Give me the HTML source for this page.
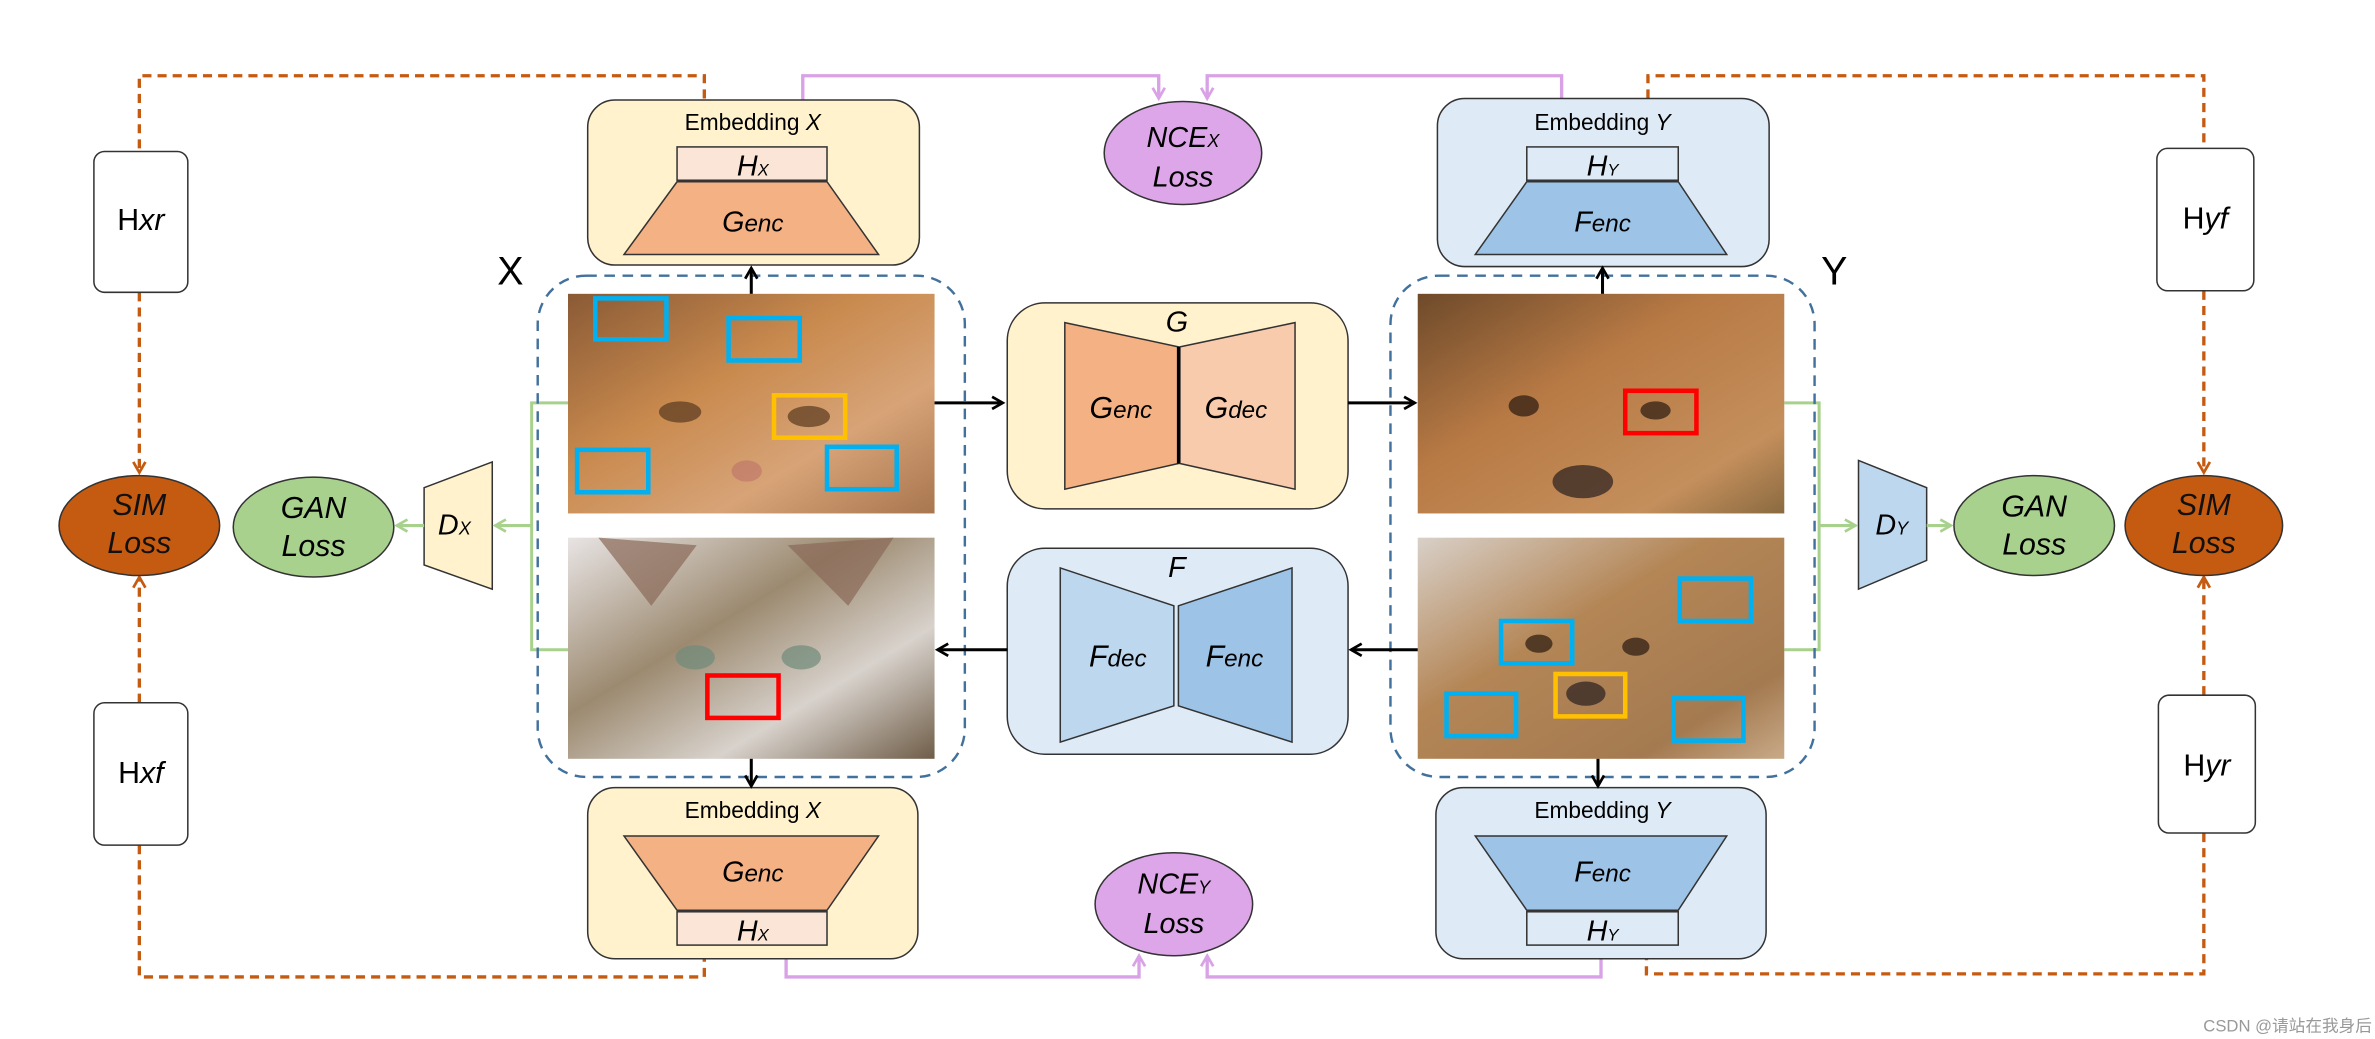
<!DOCTYPE html>
<html><head><meta charset="utf-8"><style>
html,body{margin:0;padding:0;background:#fff;}
svg{display:block;}
text{font-family:"Liberation Sans","DejaVu Sans",sans-serif;}
.it{font-style:italic;}
</style></head><body>
<svg width="2375" height="1039" viewBox="0 0 1568 686" preserveAspectRatio="none" xmlns="http://www.w3.org/2000/svg">
<defs>
<marker id="ab" markerWidth="10" markerHeight="10" refX="8" refY="5" orient="auto" markerUnits="userSpaceOnUse"><path d="M1,1 L8,5 L1,9" fill="none" stroke="#000" stroke-width="1.8"/></marker>
<marker id="ap" markerWidth="10" markerHeight="10" refX="8" refY="5" orient="auto" markerUnits="userSpaceOnUse"><path d="M1,1 L8,5 L1,9" fill="none" stroke="#d9a2e6" stroke-width="1.8"/></marker>
<marker id="ao" markerWidth="10" markerHeight="10" refX="8" refY="5" orient="auto" markerUnits="userSpaceOnUse"><path d="M1,1 L8,5 L1,9" fill="none" stroke="#c55a11" stroke-width="1.8"/></marker>
<marker id="ag" markerWidth="10" markerHeight="10" refX="8" refY="5" orient="auto" markerUnits="userSpaceOnUse"><path d="M1,1 L8,5 L1,9" fill="none" stroke="#a9d18e" stroke-width="1.8"/></marker>
<linearGradient id="c1" x1="0" y1="0" x2="1" y2="1"><stop offset="0" stop-color="#8a5a35"/><stop offset="0.4" stop-color="#c98a4e"/><stop offset="0.7" stop-color="#d7a377"/><stop offset="1" stop-color="#a8764f"/></linearGradient>
<linearGradient id="c2" x1="0" y1="0" x2="1" y2="1"><stop offset="0" stop-color="#e8e4e4"/><stop offset="0.4" stop-color="#9c8a70"/><stop offset="0.7" stop-color="#d8d2cc"/><stop offset="1" stop-color="#6f5d48"/></linearGradient>
<linearGradient id="d1" x1="0" y1="0" x2="1" y2="1"><stop offset="0" stop-color="#6e4a2a"/><stop offset="0.4" stop-color="#b87a45"/><stop offset="0.8" stop-color="#c48f5c"/><stop offset="1" stop-color="#8a6a40"/></linearGradient>
<linearGradient id="d2" x1="0" y1="0" x2="1" y2="1"><stop offset="0" stop-color="#d8d0c8"/><stop offset="0.4" stop-color="#b48656"/><stop offset="0.8" stop-color="#a47a50"/><stop offset="1" stop-color="#c8aa88"/></linearGradient>
</defs>

<g fill="none" stroke="#c55a11" stroke-width="2.2" stroke-dasharray="6,4">
<path d="M465,65 V50 H92 V100"/>
<path d="M92,193 V312" marker-end="url(#ao)"/>
<path d="M92,464 V381" marker-end="url(#ao)"/>
<path d="M92,558 V645 H465 V633"/>
<path d="M1088,65 V50 H1455 V98"/>
<path d="M1455,192 V312" marker-end="url(#ao)"/>
<path d="M1455,459 V381" marker-end="url(#ao)"/>
<path d="M1455,550 V643 H1087 V633"/>
</g>
<g fill="none" stroke="#d9a2e6" stroke-width="2.2">
<path d="M530,66 V50 H765 V65" marker-end="url(#ap)"/>
<path d="M1031,65 V50 H797 V65" marker-end="url(#ap)"/>
<path d="M519,633 V645 H752 V631" marker-end="url(#ap)"/>
<path d="M1057,633 V645 H797 V631" marker-end="url(#ap)"/>
</g>

<g fill="#fff" stroke="#333" stroke-width="1">
<rect x="62" y="100" width="62" height="93" rx="7"/>
<rect x="62" y="464" width="62" height="94" rx="7"/>
<rect x="1424" y="98" width="64" height="94" rx="7"/>
<rect x="1425" y="459" width="64" height="91" rx="7"/>
</g>
<text x="93" y="152" font-size="20" text-anchor="middle">H<tspan class="it">xr</tspan></text>
<text x="93" y="517" font-size="20" text-anchor="middle">H<tspan class="it">xf</tspan></text>
<text x="1456" y="151" font-size="20" text-anchor="middle">H<tspan class="it">yf</tspan></text>
<text x="1457" y="512" font-size="20" text-anchor="middle">H<tspan class="it">yr</tspan></text>

<ellipse cx="92" cy="347" rx="53" ry="33" fill="#c55a11" stroke="#333" stroke-width="1"/>
<text class="it" x="92" y="340" font-size="20" text-anchor="middle" fill="#111">SIM</text>
<text class="it" x="92" y="365" font-size="20" text-anchor="middle" fill="#111">Loss</text>
<ellipse cx="207" cy="348" rx="53" ry="33" fill="#a9d18e" stroke="#333" stroke-width="1"/>
<text class="it" x="207" y="342" font-size="20" text-anchor="middle">GAN</text>
<text class="it" x="207" y="367" font-size="20" text-anchor="middle">Loss</text>
<ellipse cx="1343" cy="347" rx="53" ry="33" fill="#a9d18e" stroke="#333" stroke-width="1"/>
<text class="it" x="1343" y="341" font-size="20" text-anchor="middle">GAN</text>
<text class="it" x="1343" y="366" font-size="20" text-anchor="middle">Loss</text>
<ellipse cx="1455" cy="347" rx="52" ry="33" fill="#c55a11" stroke="#333" stroke-width="1"/>
<text class="it" x="1455" y="340" font-size="20" text-anchor="middle" fill="#111">SIM</text>
<text class="it" x="1455" y="365" font-size="20" text-anchor="middle" fill="#111">Loss</text>
<ellipse cx="781" cy="101" rx="52" ry="34" fill="#dda6e8" stroke="#333" stroke-width="1"/>
<text class="it" x="781" y="97" font-size="19" text-anchor="middle">NCE<tspan font-size="12">X</tspan></text>
<text class="it" x="781" y="123" font-size="19" text-anchor="middle">Loss</text>
<ellipse cx="775" cy="597" rx="52" ry="34" fill="#dda6e8" stroke="#333" stroke-width="1"/>
<text class="it" x="775" y="590" font-size="19" text-anchor="middle">NCE<tspan font-size="12">Y</tspan></text>
<text class="it" x="775" y="616" font-size="19" text-anchor="middle">Loss</text>

<polygon points="280,322 325,305 325,389 280,373" fill="#fff2cc" stroke="#333" stroke-width="1"/>
<text class="it" x="300" y="353" font-size="19" text-anchor="middle">D<tspan font-size="12">X</tspan></text>
<polygon points="1227,304 1272,322 1272,370 1227,389" fill="#bdd7ee" stroke="#333" stroke-width="1"/>
<text class="it" x="1249" y="353" font-size="19" text-anchor="middle">D<tspan font-size="12">Y</tspan></text>

<g fill="none" stroke="#a9d18e" stroke-width="2">
<path d="M375,266 H351 V429 H375"/>
<path d="M351,347 H327" marker-end="url(#ag)"/>
<path d="M280,347 H262" marker-end="url(#ag)"/>
<path d="M1178,266 H1201 V429 H1178"/>
<path d="M1201,347 H1225" marker-end="url(#ag)"/>
<path d="M1272,347 H1288" marker-end="url(#ag)"/>
</g>

<rect x="388" y="66" width="219" height="109" rx="18" fill="#fff2cc" stroke="#333" stroke-width="1"/>
<text x="497" y="86" font-size="15" text-anchor="middle">Embedding <tspan class="it">X</tspan></text>
<rect x="447" y="97" width="99" height="22" fill="#fbe5d6" stroke="#333" stroke-width="1"/>
<text class="it" x="497" y="116" font-size="19" text-anchor="middle">H<tspan font-size="11">X</tspan></text>
<polygon points="447,120 546,120 580,168 412,168" fill="#f4b183" stroke="#333" stroke-width="1"/>
<text class="it" x="497" y="153" font-size="19" text-anchor="middle">G<tspan font-size="16">enc</tspan></text>

<rect x="949" y="65" width="219" height="111" rx="18" fill="#deebf7" stroke="#333" stroke-width="1"/>
<text x="1058" y="86" font-size="15" text-anchor="middle">Embedding <tspan class="it">Y</tspan></text>
<rect x="1008" y="97" width="100" height="22" fill="#deebf7" stroke="#333" stroke-width="1"/>
<text class="it" x="1058" y="116" font-size="19" text-anchor="middle">H<tspan font-size="11">Y</tspan></text>
<polygon points="1008,120 1108,120 1140,168 974,168" fill="#9dc3e6" stroke="#333" stroke-width="1"/>
<text class="it" x="1058" y="153" font-size="19" text-anchor="middle">F<tspan font-size="16">enc</tspan></text>

<rect x="388" y="520" width="218" height="113" rx="18" fill="#fff2cc" stroke="#333" stroke-width="1"/>
<text x="497" y="540" font-size="15" text-anchor="middle">Embedding <tspan class="it">X</tspan></text>
<polygon points="412,552 580,552 546,601 447,601" fill="#f4b183" stroke="#333" stroke-width="1"/>
<text class="it" x="497" y="582" font-size="19" text-anchor="middle">G<tspan font-size="16">enc</tspan></text>
<rect x="447" y="602" width="99" height="22" fill="#fbe5d6" stroke="#333" stroke-width="1"/>
<text class="it" x="497" y="621" font-size="19" text-anchor="middle">H<tspan font-size="11">X</tspan></text>

<rect x="948" y="520" width="218" height="113" rx="18" fill="#deebf7" stroke="#333" stroke-width="1"/>
<text x="1058" y="540" font-size="15" text-anchor="middle">Embedding <tspan class="it">Y</tspan></text>
<polygon points="974,552 1140,552 1108,601 1008,601" fill="#9dc3e6" stroke="#333" stroke-width="1"/>
<text class="it" x="1058" y="582" font-size="19" text-anchor="middle">F<tspan font-size="16">enc</tspan></text>
<rect x="1008" y="602" width="100" height="22" fill="#deebf7" stroke="#333" stroke-width="1"/>
<text class="it" x="1058" y="621" font-size="19" text-anchor="middle">H<tspan font-size="11">Y</tspan></text>

<text x="337" y="188" font-size="26" text-anchor="middle">X</text>
<text x="1211" y="188" font-size="26" text-anchor="middle">Y</text>

<rect x="355" y="182" width="282" height="331" rx="32" fill="none" stroke="#41719c" stroke-width="1.6" stroke-dasharray="7,5"/>
<rect x="918" y="182" width="280" height="331" rx="32" fill="none" stroke="#41719c" stroke-width="1.6" stroke-dasharray="7,5"/>

<rect x="375" y="194" width="242" height="145" fill="url(#c1)"/>
<rect x="375" y="355" width="242" height="146" fill="url(#c2)"/>
<rect x="936" y="194" width="242" height="145" fill="url(#d1)"/>
<rect x="936" y="355" width="242" height="146" fill="url(#d2)"/>
<!-- facial hints -->
<g fill="#5a3a20" opacity="0.7">
<ellipse cx="449" cy="272" rx="14" ry="7"/><ellipse cx="534" cy="275" rx="14" ry="7"/>
<ellipse cx="493" cy="311" rx="10" ry="7" fill="#c07a6a"/>
<ellipse cx="1006" cy="268" rx="10" ry="7" fill="#2a1a10"/><ellipse cx="1093" cy="271" rx="10" ry="6" fill="#2a1a10"/>
<ellipse cx="1045" cy="318" rx="20" ry="11" fill="#2a2020"/>
<ellipse cx="1016" cy="425" rx="9" ry="6" fill="#2a1a10"/><ellipse cx="1080" cy="427" rx="9" ry="6" fill="#2a1a10"/>
<ellipse cx="1047" cy="458" rx="13" ry="8" fill="#2a2020"/>
</g>
<g opacity="0.7">
<ellipse cx="459" cy="434" rx="13" ry="8" fill="#6f8a7a"/><ellipse cx="529" cy="434" rx="13" ry="8" fill="#6f8a7a"/>
<path d="M395,355 L430,400 L460,360Z M520,360 L560,400 L590,355Z" fill="#8a6a58"/>
</g>
<g fill="none" stroke-width="3">
<rect x="393" y="197" width="47" height="27" stroke="#00b0f0"/>
<rect x="481" y="210" width="47" height="28" stroke="#00b0f0"/>
<rect x="511" y="261" width="47" height="28" stroke="#ffc000"/>
<rect x="381" y="297" width="47" height="28" stroke="#00b0f0"/>
<rect x="546" y="295" width="46" height="28" stroke="#00b0f0"/>
<rect x="467" y="446" width="47" height="28" stroke="#ff0000"/>
<rect x="1073" y="258" width="47" height="28" stroke="#ff0000"/>
<rect x="1109" y="382" width="47" height="28" stroke="#00b0f0"/>
<rect x="991" y="410" width="47" height="28" stroke="#00b0f0"/>
<rect x="1027" y="445" width="46" height="28" stroke="#ffc000"/>
<rect x="955" y="458" width="46" height="28" stroke="#00b0f0"/>
<rect x="1105" y="461" width="46" height="28" stroke="#00b0f0"/>
</g>

<rect x="665" y="200" width="225" height="136" rx="25" fill="#fff2cc" stroke="#333" stroke-width="1"/>
<text class="it" x="777" y="219" font-size="19" text-anchor="middle">G</text>
<polygon points="703,213 778,229 778,306 703,323" fill="#f4b183" stroke="#333" stroke-width="1"/>
<polygon points="779,229 855,213 855,323 779,306" fill="#f8cbad" stroke="#333" stroke-width="1"/>
<line x1="778" y1="229" x2="778" y2="306" stroke="#000" stroke-width="2"/>
<text class="it" x="740" y="276" font-size="20" text-anchor="middle">G<tspan font-size="16">enc</tspan></text>
<text class="it" x="816" y="276" font-size="20" text-anchor="middle">G<tspan font-size="16">dec</tspan></text>

<rect x="665" y="362" width="225" height="136" rx="25" fill="#deebf7" stroke="#333" stroke-width="1"/>
<text class="it" x="777" y="381" font-size="19" text-anchor="middle">F</text>
<polygon points="700,375 775,400 775,466 700,490" fill="#bdd7ee" stroke="#333" stroke-width="1"/>
<polygon points="778,400 853,375 853,490 778,466" fill="#9dc3e6" stroke="#333" stroke-width="1"/>
<text class="it" x="738" y="440" font-size="20" text-anchor="middle">F<tspan font-size="16">dec</tspan></text>
<text class="it" x="815" y="440" font-size="20" text-anchor="middle">F<tspan font-size="16">enc</tspan></text>

<g fill="none" stroke="#000" stroke-width="2">
<path d="M617,266 H662" marker-end="url(#ab)"/>
<path d="M890,266 H934" marker-end="url(#ab)"/>
<path d="M936,429 H892" marker-end="url(#ab)"/>
<path d="M665,429 H619" marker-end="url(#ab)"/>
<path d="M496,194 V177" marker-end="url(#ab)"/>
<path d="M1058,194 V177" marker-end="url(#ab)"/>
<path d="M496,501 V519" marker-end="url(#ab)"/>
<path d="M1055,501 V519" marker-end="url(#ab)"/>
</g>

<text x="1566" y="681" font-size="11" text-anchor="end" fill="#999" font-family="Liberation Sans, Noto Sans CJK SC, sans-serif">CSDN @请站在我身后</text>
</svg>
</body></html>
